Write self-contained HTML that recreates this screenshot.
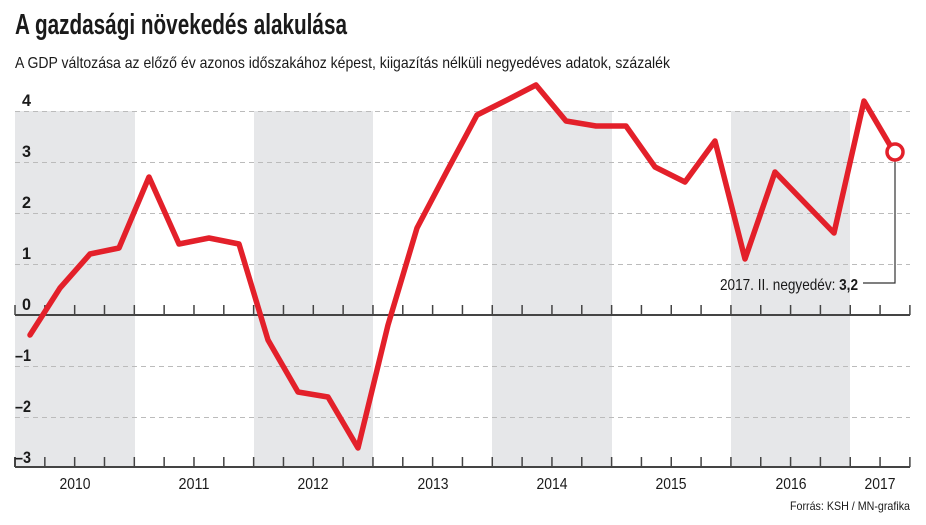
<!DOCTYPE html>
<html><head><meta charset="utf-8"><style>
html,body{margin:0;padding:0;background:#fff;width:926px;height:525px;overflow:hidden}
svg{display:block}
text{font-family:"Liberation Sans Narrow","Liberation Sans",sans-serif;fill:#1a1a1a}
</style></head><body>
<svg width="926" height="525" viewBox="0 0 926 525">
<text x="15" y="34" font-size="29" font-weight="bold" textLength="332" lengthAdjust="spacingAndGlyphs">A gazdasági növekedés alakulása</text>
<text x="15" y="68" font-size="16" textLength="655" lengthAdjust="spacingAndGlyphs">A GDP változása az előző év azonos időszakához képest, kiigazítás nélküli negyedéves adatok, százalék</text>
<g fill="#e6e7e9">
<rect x="15" y="111" width="120" height="356"/>
<rect x="254" y="111" width="119" height="356"/>
<rect x="492" y="111" width="120" height="356"/>
<rect x="731" y="111" width="119" height="356"/>
</g>
<g stroke="#bbb" stroke-width="1" stroke-dasharray="5,4">
<line x1="15" y1="111.5" x2="910" y2="111.5"/>
<line x1="15" y1="162.5" x2="910" y2="162.5"/>
<line x1="15" y1="213.5" x2="910" y2="213.5"/>
<line x1="15" y1="264.5" x2="910" y2="264.5"/>
<line x1="15" y1="366.5" x2="910" y2="366.5"/>
<line x1="15" y1="417.5" x2="910" y2="417.5"/>
</g>
<g stroke="#444" stroke-width="2" fill="none">
<line x1="15" y1="315" x2="910" y2="315"/>
<line x1="15" y1="467" x2="910" y2="467"/>
<line x1="15" y1="457" x2="15" y2="467"/>
</g>
<g stroke="#444" stroke-width="1.5" id="ticks"></g>
<g font-size="17" font-weight="bold">
<text x="22" y="106" textLength="9" lengthAdjust="spacingAndGlyphs">4</text>
<text x="22" y="157" textLength="9" lengthAdjust="spacingAndGlyphs">3</text>
<text x="22" y="208" textLength="9" lengthAdjust="spacingAndGlyphs">2</text>
<text x="22" y="259" textLength="9" lengthAdjust="spacingAndGlyphs">1</text>
<text x="22" y="310" textLength="9" lengthAdjust="spacingAndGlyphs">0</text>
<text x="15" y="361" textLength="16" lengthAdjust="spacingAndGlyphs">–1</text>
<text x="15" y="412" textLength="16" lengthAdjust="spacingAndGlyphs">–2</text>
<text x="15" y="463" textLength="16" lengthAdjust="spacingAndGlyphs">–3</text>
</g>
<g font-size="16" text-anchor="middle">
<text x="75" y="489" textLength="31" lengthAdjust="spacingAndGlyphs">2010</text>
<text x="194" y="489" textLength="31" lengthAdjust="spacingAndGlyphs">2011</text>
<text x="313" y="489" textLength="31" lengthAdjust="spacingAndGlyphs">2012</text>
<text x="433" y="489" textLength="31" lengthAdjust="spacingAndGlyphs">2013</text>
<text x="552" y="489" textLength="31" lengthAdjust="spacingAndGlyphs">2014</text>
<text x="671" y="489" textLength="31" lengthAdjust="spacingAndGlyphs">2015</text>
<text x="791" y="489" textLength="31" lengthAdjust="spacingAndGlyphs">2016</text>
<text x="880" y="489" textLength="31" lengthAdjust="spacingAndGlyphs">2017</text>
</g>
<text x="790" y="510" font-size="12" textLength="120" lengthAdjust="spacingAndGlyphs">Forrás: KSH / MN-grafika</text>
<polyline fill="none" stroke="#e3202a" stroke-width="5.5" stroke-linejoin="round" stroke-linecap="round" points="30,335 60,288 90,254 119,248 149,177 179,244 209,238 239,244 268,340 298,392 328,397 358,448 388,325 417,228 447,171 477,115 507,100 536,85 566,121 596,126 626,126 655,167 685,182 715,141 745,259 775,172 804,202 834,233 864,101 894,152"/>
<polyline fill="none" stroke="#333" stroke-width="1.2" points="895,160 895,283 863,283"/>
<circle cx="895" cy="152" r="8" fill="#fff" stroke="#e3202a" stroke-width="3.5"/>
<text x="720" y="290" font-size="16" textLength="138" lengthAdjust="spacingAndGlyphs">2017. II. negyedév: <tspan font-weight="bold">3,2</tspan></text>
</svg>
<script>
var g=document.getElementById('ticks'),s='';
for(var i=0;i<=30;i++){var x=15+i*29.83;if(x>911)break;
s+='<line x1="'+x+'" y1="305" x2="'+x+'" y2="315"/><line x1="'+x+'" y1="457" x2="'+x+'" y2="467"/>';}
g.innerHTML=s;
</script>
</body></html>
